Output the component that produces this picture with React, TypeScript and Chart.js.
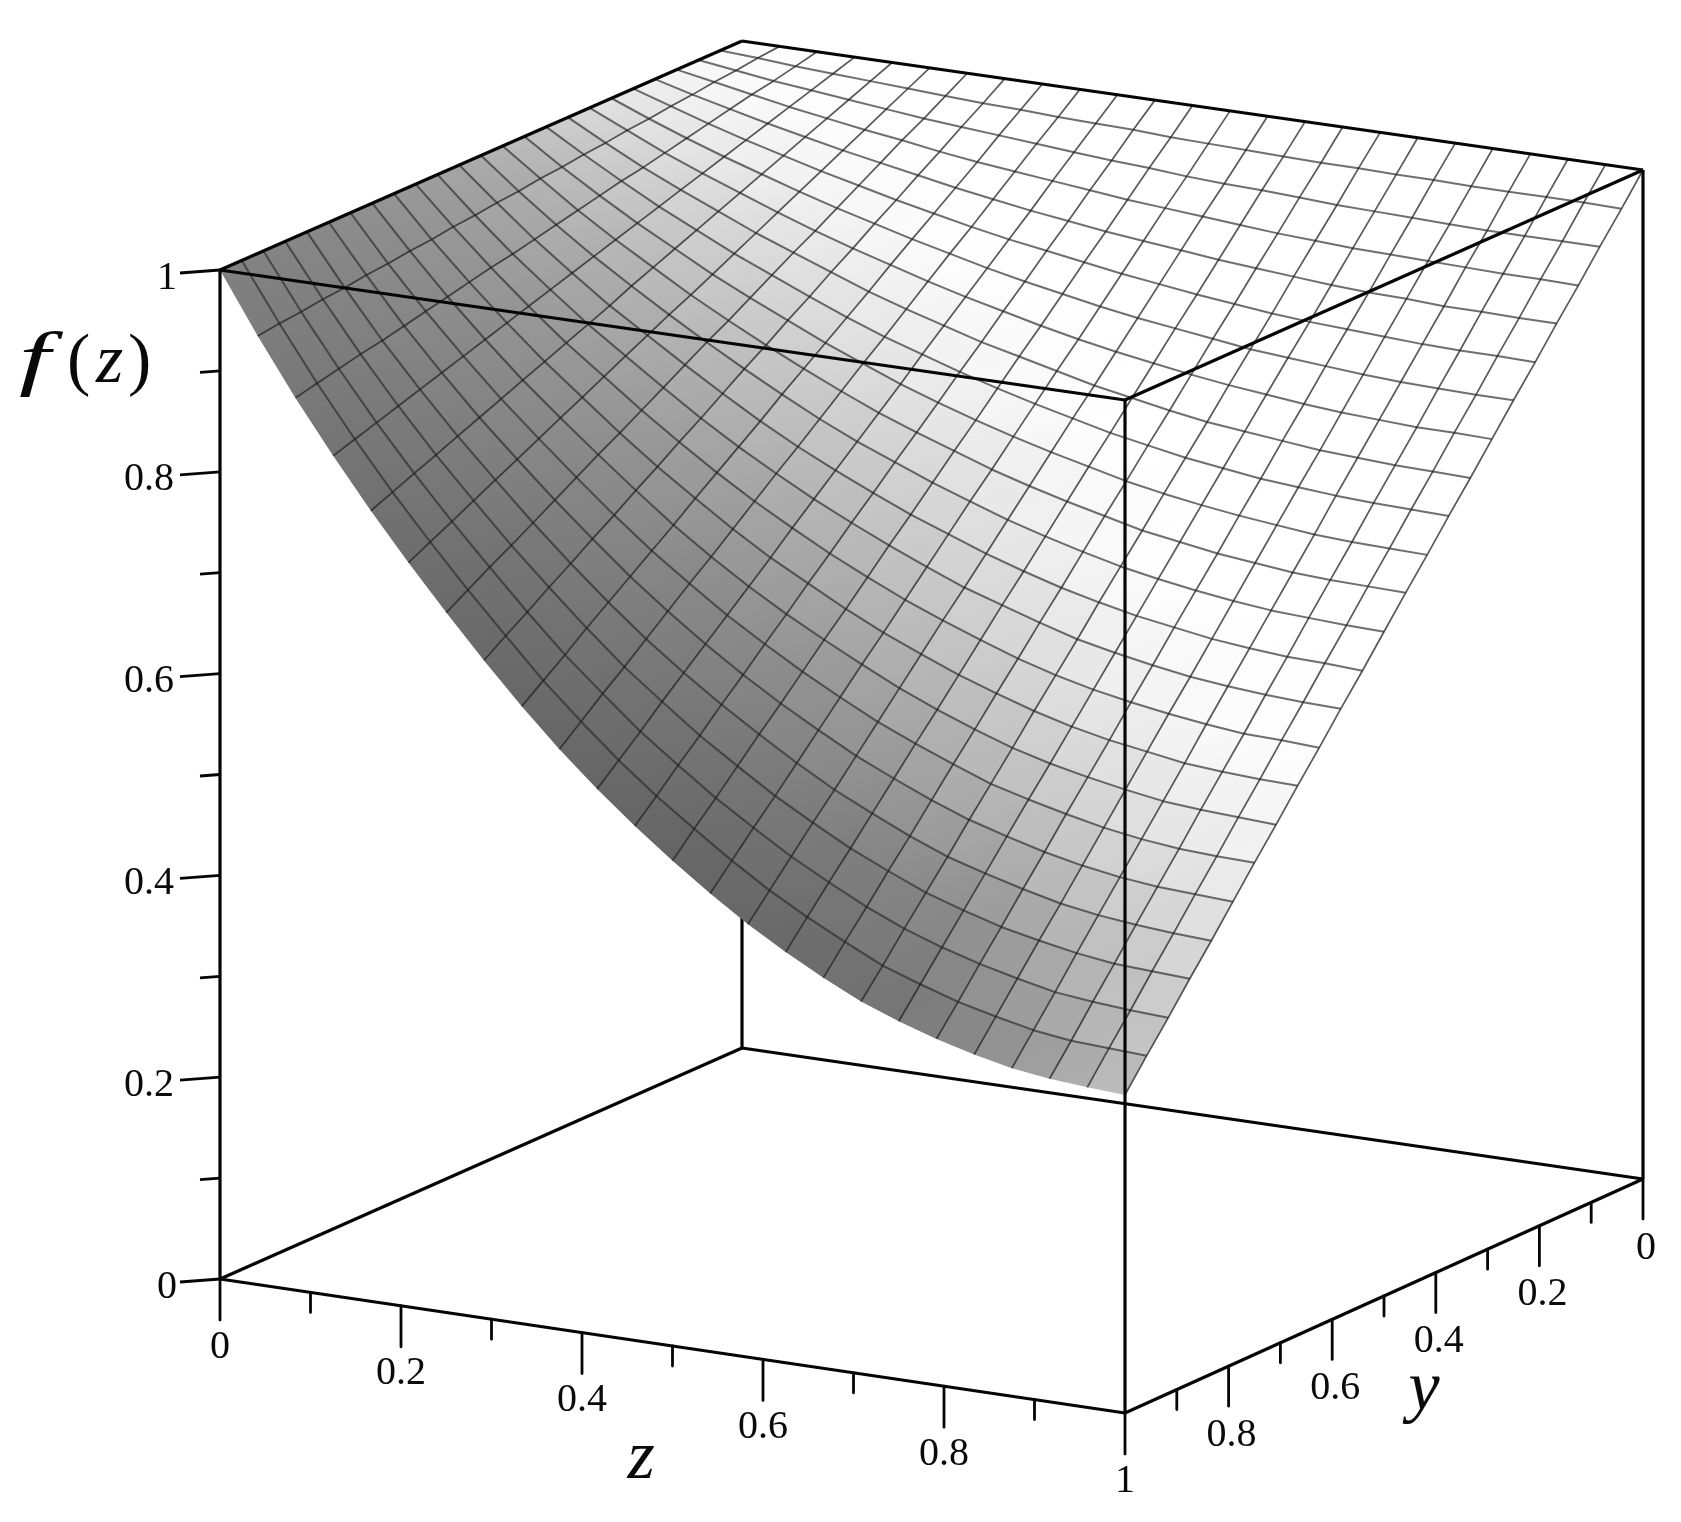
import { useEffect, useRef } from "react";
import { Chart, registerables } from "chart.js";

Chart.register(...registerables);

const CANVAS_W = 1681;
const CANVAS_H = 1522;

// Screen corners of the plot box, [x, y] for (z, y, f)
const cornerA0 = [220, 1279]; // z=0 y=1 f=0
const cornerB0 = [1125, 1413]; // z=1 y=1 f=0
const cornerC0 = [1643, 1179]; // z=1 y=0 f=0
const cornerD0 = [742, 1048]; // z=0 y=0 f=0
const cornerA1 = [220, 270]; // z=0 y=1 f=1
const cornerB1 = [1125, 400]; // z=1 y=1 f=1
const cornerC1 = [1643, 170]; // z=1 y=0 f=1
const cornerD1 = [742, 41]; // z=0 y=0 f=1

const zMajor = [0, 0.2, 0.4, 0.6, 0.8, 1];
const zMajorLabels = ["0", "0.2", "0.4", "0.6", "0.8", "1"];
const yMajor = [0, 0.2, 0.4, 0.6, 0.8];
const yMajorLabels = ["0", "0.2", "0.4", "0.6", "0.8"];
const fMajor = [0, 0.2, 0.4, 0.6, 0.8, 1];
const fMajorLabels = ["0", "0.2", "0.4", "0.6", "0.8", "1"];
const minorTicks = [0.1, 0.3, 0.5, 0.7, 0.9];

// f(z, y) in thousandths, one row per y step (y = 0 at the top row, y = 1 at the bottom), 25 z columns
const surfaceRows = [
  [1000,1000,1000,1000,1000,1000,1000,1000,1000,1000,1000,1000,1000,1000,1000,1000,1000,1000,1000,1000,1000,1000,1000,1000,1000],
  [1000,998,995,993,991,989,987,985,984,982,981,980,978,977,976,975,974,974,973,973,972,972,972,972,971],
  [1000,995,990,986,982,978,974,971,968,965,962,959,957,954,952,951,949,947,946,945,944,943,943,943,943],
  [1000,993,986,979,973,967,962,956,951,947,943,939,935,932,929,926,923,921,919,918,917,916,915,915,914],
  [1000,990,981,972,964,956,949,942,935,929,923,918,913,909,905,901,898,895,892,890,889,887,887,886,886],
  [1000,988,976,965,955,945,936,927,919,911,904,898,892,886,881,876,872,868,865,863,861,859,858,858,857],
  [1000,985,971,958,946,934,923,913,903,894,885,877,870,863,857,852,847,842,839,836,833,831,830,829,829],
  [1000,983,966,951,937,923,910,898,887,876,866,857,848,840,833,827,821,816,812,808,805,803,801,801,800],
  [1000,980,961,944,928,912,898,884,870,858,847,836,827,818,809,802,795,789,785,781,777,775,773,772,771],
  [1000,978,957,937,919,901,885,869,854,840,828,816,805,795,786,777,770,763,758,753,750,747,745,744,743],
  [1000,975,952,930,910,890,872,855,838,823,808,795,783,772,762,753,744,737,731,726,722,718,716,715,714],
  [1000,973,947,923,901,879,859,840,822,805,789,775,762,749,738,728,719,710,704,698,694,690,688,687,686],
  [1000,970,942,916,892,869,847,826,806,787,770,755,740,727,714,703,693,684,677,671,666,662,660,658,657],
  [1000,968,937,909,882,858,834,811,789,769,751,734,718,704,690,678,667,658,650,644,638,634,631,630,628],
  [1000,965,932,902,873,847,821,796,773,752,732,714,697,681,666,654,642,631,623,616,610,606,603,601,600],
  [1000,963,928,895,864,836,808,782,757,734,713,693,675,658,643,629,616,605,596,589,583,578,574,573,571],
  [1000,960,923,888,855,825,795,767,741,716,693,673,653,635,619,604,591,579,569,561,555,549,546,544,543],
  [1000,958,918,881,846,814,783,753,724,698,674,652,632,613,595,579,565,552,542,534,527,521,518,516,514],
  [1000,955,913,874,837,803,770,738,708,681,655,632,610,590,571,555,540,526,516,507,499,493,489,487,486],
  [1000,953,908,867,828,792,757,724,692,663,636,611,588,567,547,530,514,500,489,479,471,465,461,459,457],
  [1000,950,903,860,819,781,744,709,676,645,617,591,567,544,523,505,488,473,462,452,443,437,433,430,428],
  [1000,948,899,853,810,770,731,695,660,627,598,570,545,521,500,480,463,447,435,424,416,409,404,402,400],
  [1000,945,894,846,801,759,719,680,643,610,578,550,523,499,476,456,437,421,408,397,388,380,376,373,371],
  [1000,943,889,839,792,748,706,666,627,592,559,529,502,476,452,431,412,394,381,369,360,352,347,345,343],
  [1000,940,884,832,783,737,693,651,611,574,540,509,480,453,428,406,386,368,354,342,332,324,319,316,314],
];

// Gray level of the shaded surface sampled on a coarse grid: rows y = 1 ... 0, columns z = 0 ... 1
const shadeSamples = [
  [128,115,106,102,100,104,116,146,188],
  [132,124,118,116,118,126,144,180,214],
  [140,136,134,136,146,165,192,222,242],
  [152,152,155,164,182,205,232,250,255],
  [170,174,184,198,216,240,255,255,255],
  [195,202,216,232,248,255,255,255,255],
  [225,234,245,254,255,255,255,255,255],
  [245,252,255,255,255,255,255,255,255],
  [255,255,255,255,255,255,255,255,255],
];

const lerp = (a: number, b: number, t: number) => a + (b - a) * t;

function project(z: number, y: number, f: number) {
  const pick = (k: number) =>
    lerp(
      lerp(lerp(cornerD0[k], cornerC0[k], z), lerp(cornerA0[k], cornerB0[k], z), y),
      lerp(lerp(cornerD1[k], cornerC1[k], z), lerp(cornerA1[k], cornerB1[k], z), y),
      f
    );
  return { x: pick(0), y: pick(1) };
}

function shadeAt(z: number, y: number) {
  const n = shadeSamples.length - 1;
  const r = (1 - y) * n;
  const c = z * n;
  const r0 = Math.min(Math.floor(r), n - 1);
  const c0 = Math.min(Math.floor(c), n - 1);
  const top = lerp(shadeSamples[r0][c0], shadeSamples[r0][c0 + 1], c - c0);
  const bot = lerp(shadeSamples[r0 + 1][c0], shadeSamples[r0 + 1][c0 + 1], c - c0);
  return Math.round(lerp(top, bot, r - r0));
}

const gray = (g: number) => `rgb(${g},${g},${g})`;

export default function App() {
  const ref = useRef<HTMLCanvasElement | null>(null);

  useEffect(() => {
    document.body.style.margin = "0";
    const canvas = ref.current!;
    const g2d = canvas.getContext("2d")!;
    const steps = surfaceRows.length - 1;
    const node = (i: number, j: number) => project(i / steps, j / steps, surfaceRows[j][i] / 1000);

    const line = (data: { x: number; y: number }[], borderWidth: number, borderColor: string) => ({
      data,
      showLine: true,
      pointRadius: 0,
      borderWidth,
      borderColor,
      backgroundColor: "transparent",
      fill: false,
      tension: 0,
      borderCapStyle: "butt",
      borderJoinStyle: "round",
    });

    const BOX = "#050505";
    const BOX_W = 3.2;
    const TICK_W = 2.8;

    const ds: any[] = [];
    // Front-most: box edges in front of the surface
    const edge = (a: number[], b: number[]) =>
      ds.push(line([{ x: a[0], y: a[1] }, { x: b[0], y: b[1] }], BOX_W, BOX));
    edge(cornerA1, cornerB1);
    edge(cornerB1, cornerC1);
    edge(cornerC1, cornerD1);
    edge(cornerD1, cornerA1);
    edge(cornerA0, cornerA1);
    edge(cornerB0, cornerB1);
    edge(cornerC0, cornerC1);
    edge(cornerA0, cornerB0);
    edge(cornerB0, cornerC0);
    edge(cornerC0, cornerD0);
    edge(cornerD0, cornerA0);

    const vTick = (p: { x: number; y: number }, len: number) =>
      ds.push(line([p, { x: p.x, y: p.y + len }], TICK_W, BOX));
    const hTick = (p: { x: number; y: number }, len: number, drop: number) =>
      ds.push(line([p, { x: p.x - len, y: p.y + drop }], TICK_W, BOX));
    zMajor.forEach((v) => vTick(project(v, 1, 0), 41));
    minorTicks.forEach((v) => vTick(project(v, 1, 0), 20));
    yMajor.forEach((v) => vTick(project(1, v, 0), 40));
    minorTicks.forEach((v) => vTick(project(1, v, 0), 20));
    fMajor.forEach((v) => hTick(project(0, 1, v), 40, 3));
    minorTicks.forEach((v) => hTick(project(0, 1, v), 20, 1.5));

    // Mesh lines; the z = 1 rim carries a line, the y = 1 rim does not
    for (let j = 1; j < steps; j++) {
      const pts = [];
      for (let i = 0; i <= steps; i++) pts.push(node(i, j));
      ds.push(line(pts, 2.0, "rgba(30,30,30,0.64)"));
    }
    for (let i = 1; i <= steps; i++) {
      const pts = [];
      for (let j = 0; j <= steps; j++) pts.push(node(i, j));
      ds.push(line(pts, 1.7, "rgba(25,25,25,0.72)"));
    }

    // Shaded cells
    for (let j = 0; j < steps; j++) {
      for (let i = 0; i < steps; i++) {
        const a = node(i, j);
        const b = node(i + 1, j);
        const c = node(i + 1, j + 1);
        const d = node(i, j + 1);
        const grad = g2d.createLinearGradient(a.x, a.y, c.x, c.y);
        grad.addColorStop(0, gray(shadeAt(i / steps, j / steps)));
        grad.addColorStop(1, gray(shadeAt((i + 1) / steps, (j + 1) / steps)));
        ds.push({
          data: [a, b, c, d, a],
          showLine: true,
          pointRadius: 0,
          borderWidth: 0,
          borderColor: "transparent",
          backgroundColor: grad,
          fill: "shape",
          tension: 0,
        });
      }
    }

    // Hidden corner edge, behind the surface
    edge(cornerD0, cornerD1);

    const textPlugin = {
      id: "plotText",
      afterDatasetsDraw(chart: any) {
        const { ctx, scales } = chart;
        const px = (p: { x: number; y: number }) => ({
          x: scales.x.getPixelForValue(p.x),
          y: scales.y.getPixelForValue(p.y),
        });
        ctx.save();
        ctx.fillStyle = "#0a0a0a";
        ctx.textBaseline = "middle";
        ctx.font = "40px 'Liberation Serif'";
        ctx.textAlign = "center";
        zMajor.forEach((v, k) => {
          const p = px(project(v, 1, 0));
          ctx.fillText(zMajorLabels[k], p.x, p.y + 68);
        });
        yMajor.forEach((v, k) => {
          const p = px(project(1, v, 0));
          ctx.fillText(yMajorLabels[k], p.x + 3, p.y + 69);
        });
        ctx.textAlign = "right";
        fMajor.forEach((v, k) => {
          const p = px(project(0, 1, v));
          ctx.fillText(fMajorLabels[k], p.x - (fMajorLabels[k].length > 1 ? 46 : 43), p.y + 8);
        });
        ctx.textBaseline = "alphabetic";
        ctx.textAlign = "left";
        ctx.font = "italic 66px 'Liberation Serif'";
        ctx.save();
        ctx.translate(19, 382);
        ctx.scale(1.7, 1.08);
        ctx.fillText("f", 0, 0);
        ctx.restore();
        ctx.font = "italic 70px 'Liberation Serif'";
        ctx.fillText("z", 96, 382);
        ctx.font = "70px 'Liberation Serif'";
        ctx.fillText("(", 67, 382);
        ctx.fillText(")", 128, 382);
        ctx.font = "italic 70px 'Liberation Serif'";
        ctx.textAlign = "center";
        ctx.fillText("z", 641, 1478);
        ctx.fillText("y", 1424, 1409);
        ctx.restore();
      },
    };

    const chart = new Chart(canvas, {
      type: "scatter",
      data: { datasets: ds },
      options: {
        responsive: false,
        animation: false,
        events: [],
        layout: { padding: 0 },
        plugins: { legend: { display: false }, tooltip: { enabled: false }, title: { display: false } },
        scales: {
          x: { type: "linear", min: 0, max: CANVAS_W, display: false },
          y: { type: "linear", min: 0, max: CANVAS_H, reverse: true, display: false },
        },
      },
      plugins: [textPlugin],
    } as any);
    return () => chart.destroy();
  }, []);

  return <canvas ref={ref} width={CANVAS_W} height={CANVAS_H} style={{ display: "block", filter: "blur(0.6px)" }} />;
}
